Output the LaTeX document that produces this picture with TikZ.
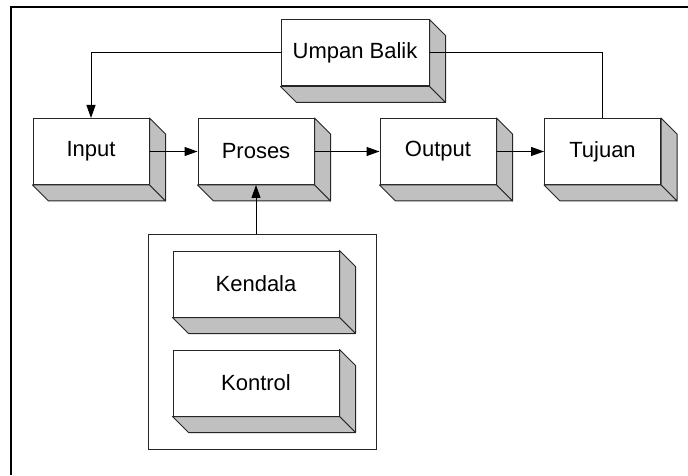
\documentclass[tikz,border=0pt]{standalone}
\usepackage{fontspec}
\setmainfont{Liberation Sans}
\usetikzlibrary{arrows.meta,calc}
\definecolor{sisi}{RGB}{192,192,192}

\begin{document}
\begin{tikzpicture}
  [x=0.5pt,y=-0.5pt,
   every node/.style={draw=black!85,fill=white,line width=0.5pt,
     minimum width=58pt,minimum height=33pt,inner sep=0pt,
     font=\fontsize{11}{13}\selectfont},
   side/.style={draw=black!85,fill=sisi,line width=0.5pt,line join=round},
   link/.style={-{Triangle[length=6.5pt,width=4.5pt]},line width=0.5pt}]
  \useasboundingbox (0,0) rectangle (688,475);
  \draw[line width=1pt] (11,475) -- (11,7) -- (688,7);

  % group holding the two inner boxes
  \node[minimum width=114pt,minimum height=107.5pt] (kendali) at (262,341.5) {};

  \node (input)  at (91,151.5)  {Input};
  \node (proses) at (256,151.5) {Proses};
  \node (output) at (438,151.5) {Output};
  \node (tujuan) at (602.5,151.5) {Tujuan};
  \node[minimum width=74pt] (umpan)   at (355,53)  {Umpan Balik};
  \node[minimum width=83pt] (kendala) at (256,284) {Kendala};
  \node[minimum width=83pt] (kontrol) at (256,383) {Kontrol};

  % depth faces of the blocks
  \foreach \n in {input,proses,output,tujuan,umpan,kendala,kontrol}{
    \draw[side] (\n.north east) -- ($(\n.north east)+(16,16)$)
      -- ($(\n.south east)+(16,16)$) -- (\n.south east) -- cycle;
    \draw[side] (\n.south west) -- (\n.south east)
      -- ($(\n.south east)+(16,16)$) -- ($(\n.south west)+(16,16)$) -- cycle;
  }

  \draw[link] (input.east) -- (proses.west);
  \draw[link] (proses.east) -- (output.west);
  \draw[link] (output.east) -- (tujuan.west);
  \draw[link] (kendali.north -| proses.south) -- (proses.south);
  \draw[line width=0.5pt] (tujuan.north) |- (umpan.east);
  \draw[link] (umpan.west) -| (input.north);
\end{tikzpicture}
\end{document}
